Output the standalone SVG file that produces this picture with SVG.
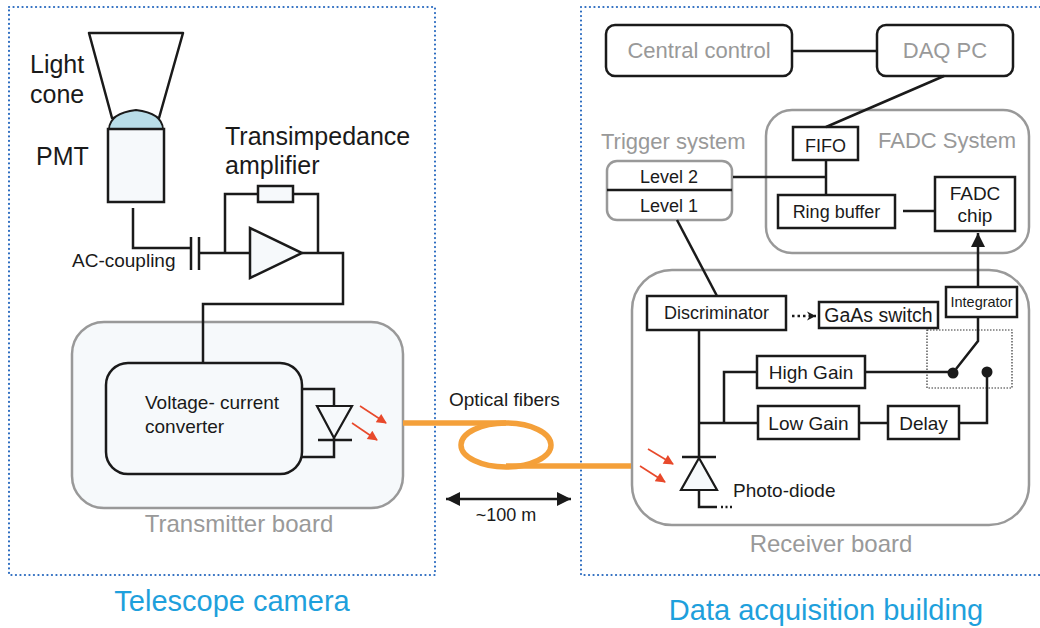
<svg xmlns="http://www.w3.org/2000/svg" width="1040" height="628" viewBox="0 0 1040 628">
  <defs>
    <style>
      text { font-family: "Liberation Sans", Arial, Helvetica, sans-serif; fill: #1a1a1a; }
      .gray { fill: #999999; }
      .blue { fill: #1ea0dc; }
      .zone { fill: none; stroke: #2c6cc0; stroke-width: 2.2; stroke-dasharray: 0.1 4.4; stroke-linecap: round; }
      .board { fill: #f6f9fb; stroke: #999999; stroke-width: 2.5; }
      .sys { fill: #ffffff; stroke: #999999; stroke-width: 2.5; }
      .blk { fill: #ffffff; stroke: #1a1a1a; stroke-width: 2.5; }
      .blkf { fill: #f6f9fb; stroke: #1a1a1a; stroke-width: 2.5; }
      .wire { fill: none; stroke: #1a1a1a; stroke-width: 2.5; }
      .fiber { fill: none; stroke: #f4a03a; stroke-width: 5.5; }
      .ray { fill: none; stroke: #e8492b; stroke-width: 1.6; }
      .mid { text-anchor: middle; }
    </style>
    <marker id="redHeadL" viewBox="0 0 10 10" refX="9" refY="5" markerWidth="12" markerHeight="10" markerUnits="userSpaceOnUse" orient="auto">
      <path d="M0,0 L10,5 L0,10 z" fill="#e8492b"/>
    </marker>
    <marker id="blackHead" viewBox="0 0 10 10" refX="10" refY="5" markerWidth="14" markerHeight="15" markerUnits="userSpaceOnUse" orient="auto-start-reverse">
      <path d="M0,0 L10,5 L0,10 z" fill="#1a1a1a"/>
    </marker>
    <marker id="dotHead" viewBox="0 0 10 10" refX="10" refY="5" markerWidth="9" markerHeight="12" markerUnits="userSpaceOnUse" orient="auto">
      <path d="M0,0 L10,5 L0,10 L3,5 z" fill="#1a1a1a"/>
    </marker>
  </defs>

  <!-- site zones -->
  <g id="telescope-camera">
    <rect class="zone" x="9" y="7" width="426" height="568"/>
    <text class="blue mid" x="232" y="611" font-size="29">Telescope camera</text>
  </g>
  <g id="daq-building">
    <path class="zone" d="M1040,7 H581 V575 H1040"/>
    <text class="blue mid" x="826" y="620" font-size="29">Data acquisition building</text>
  </g>

  <!-- camera-side components -->
  <g id="light-cone">
    <polygon points="89,33 183,33 159,118 112,118" fill="#ffffff" stroke="#1a1a1a" stroke-width="2.5" stroke-linejoin="round"/>
    <text x="30" y="73" font-size="25">Light</text>
    <text x="30" y="103" font-size="25">cone</text>
  </g>
  <g id="pmt">
    <path d="M109,129 Q110,113 136,110 Q162,113 163,129 z" fill="#b9dde8" stroke="#1a1a1a" stroke-width="1.8"/>
    <rect class="blkf" x="108" y="129" width="56" height="73"/>
    <text x="36" y="165" font-size="25">PMT</text>
  </g>
  <g id="ac-coupling">
    <line class="wire" x1="191" y1="237" x2="191" y2="270"/>
    <line class="wire" x1="199" y1="237" x2="199" y2="270"/>
    <text x="72" y="267" font-size="19">AC-coupling</text>
  </g>
  <g id="transimpedance-amplifier">
    <rect class="blkf" x="258" y="186" width="35" height="16" stroke-width="2"/>
    <polygon points="250,228 250,278 302,253" fill="#f6f9fb" stroke="#1a1a1a" stroke-width="2.5" stroke-linejoin="miter"/>
    <text x="225" y="145" font-size="25">Transimpedance</text>
    <text x="225" y="174" font-size="25">amplifier</text>
  </g>
  <g id="transmitter-board">
    <rect class="board" x="72" y="322" width="331" height="186" rx="32"/>
    <text class="gray mid" x="239" y="532" font-size="24">Transmitter board</text>
  </g>
  <g id="vi-converter">
    <rect class="blkf" x="106" y="363" width="196" height="111" rx="22"/>
    <text x="145" y="409" font-size="19">Voltage- current</text>
    <text x="145" y="433" font-size="19">converter</text>
  </g>
  <g id="led">
    <polygon points="317,406 352,406 334,438" fill="none" stroke="#1a1a1a" stroke-width="2.2" stroke-linejoin="miter"/>
    <line class="wire" x1="318" y1="440" x2="352" y2="440" stroke-width="2.2"/>
    <line class="ray" x1="360" y1="406" x2="386" y2="423" marker-end="url(#redHeadL)"/>
    <line class="ray" x1="352" y1="423" x2="377" y2="440" marker-end="url(#redHeadL)"/>
  </g>

  <!-- link between sites -->
  <g id="optical-fibers">
    <text x="449" y="406" font-size="19">Optical fibers</text>
    <line class="wire" x1="446" y1="499" x2="571" y2="499" marker-start="url(#blackHead)" marker-end="url(#blackHead)"/>
    <text class="mid" x="506" y="521" font-size="18">~100 m</text>
  </g>

  <!-- control and readout -->
  <g id="central-control">
    <rect class="blk" x="606" y="25" width="186" height="51" rx="9"/>
    <text class="gray mid" x="699" y="58" font-size="22">Central control</text>
  </g>
  <g id="daq-pc">
    <rect class="blk" x="877" y="25" width="136" height="51" rx="9"/>
    <text class="gray mid" x="945" y="58" font-size="22">DAQ PC</text>
  </g>
  <g id="fadc-system">
    <rect class="sys" x="766" y="110" width="263" height="143" rx="26"/>
    <text class="gray" x="878" y="148" font-size="22">FADC System</text>
  </g>
  <g id="fifo">
    <rect class="blk" x="793" y="127" width="65" height="33"/>
    <text class="mid" x="825.5" y="152" font-size="18">FIFO</text>
  </g>
  <g id="ring-buffer">
    <rect class="blk" x="778" y="195" width="117" height="33"/>
    <text class="mid" x="836.5" y="218" font-size="18">Ring buffer</text>
  </g>
  <g id="fadc-chip">
    <rect class="blk" x="935" y="177" width="80" height="54"/>
    <text class="mid" x="975" y="200" font-size="19">FADC</text>
    <text class="mid" x="975" y="222" font-size="19">chip</text>
  </g>
  <g id="trigger-system">
    <text class="gray" x="601" y="149" font-size="22">Trigger system</text>
    <rect class="sys" x="607" y="161" width="125" height="59" rx="10"/>
    <line class="wire" x1="607" y1="190" x2="732" y2="190"/>
    <text class="mid" x="669" y="183" font-size="18">Level 2</text>
    <text class="mid" x="669" y="212" font-size="18">Level 1</text>
  </g>

  <!-- receiver board -->
  <g id="receiver-board">
    <rect class="sys" x="632" y="270" width="397" height="255" rx="40"/>
    <text class="gray mid" x="831" y="552" font-size="24">Receiver board</text>
  </g>
  <g id="discriminator">
    <rect class="blk" x="647" y="296" width="139" height="34"/>
    <text class="mid" x="716.5" y="319" font-size="18">Discriminator</text>
  </g>
  <g id="gaas-switch">
    <rect class="blk" x="819" y="302" width="119" height="26" stroke-width="2"/>
    <text class="mid" x="878.5" y="322" font-size="19.5">GaAs switch</text>
    <rect x="927" y="330" width="85" height="58" fill="none" stroke="#333333" stroke-width="1.2" stroke-dasharray="1.5 1.5"/>
    <circle cx="953" cy="373" r="5.5" fill="#1a1a1a"/>
    <circle cx="987" cy="372" r="5.5" fill="#1a1a1a"/>
  </g>
  <g id="integrator">
    <rect class="blk" x="946" y="287" width="71" height="30"/>
    <text class="mid" x="981.5" y="307" font-size="14.5">Integrator</text>
  </g>
  <g id="high-gain">
    <rect class="blk" x="757" y="356" width="108" height="32"/>
    <text class="mid" x="811" y="379" font-size="19">High Gain</text>
  </g>
  <g id="low-gain">
    <rect class="blk" x="758" y="406" width="101" height="33"/>
    <text class="mid" x="808.5" y="430" font-size="19">Low Gain</text>
  </g>
  <g id="delay">
    <rect class="blk" x="888" y="406" width="71" height="33"/>
    <text class="mid" x="923.5" y="430" font-size="19">Delay</text>
  </g>
  <g id="photo-diode">
    <line class="wire" x1="682" y1="457" x2="716" y2="457" stroke-width="2.2"/>
    <polygon points="699,458 681,490 717,490" fill="#f6f9fb" stroke="#1a1a1a" stroke-width="2.2" stroke-linejoin="miter"/>
    <line class="ray" x1="648" y1="449" x2="673" y2="464" marker-end="url(#redHeadL)"/>
    <line class="ray" x1="640" y1="466" x2="665" y2="482" marker-end="url(#redHeadL)"/>
    <text x="733" y="497" font-size="19">Photo-diode</text>
  </g>

  <!-- connectors -->
  <g id="connectors">
    <!-- fiber with loop -->
    <line class="fiber" x1="403" y1="423" x2="506" y2="423"/>
    <ellipse class="fiber" cx="506" cy="445" rx="45" ry="22"/>
    <line class="fiber" x1="506" y1="466" x2="631" y2="466"/>

    <!-- camera front end -->
    <polyline class="wire" points="133,208 133,248 191,248"/>
    <line class="wire" x1="199" y1="253" x2="250" y2="253"/>
    <polyline class="wire" points="225,253 225,194 258,194"/>
    <polyline class="wire" points="293,194 318,194 318,253"/>
    <polyline class="wire" points="302,253 343,253 343,304 203,304 203,363"/>
    <polyline class="wire" points="302,389 334,389 334,406" stroke-width="2.2"/>
    <polyline class="wire" points="334,438 334,457 302,457" stroke-width="2.2"/>

    <!-- control network -->
    <line class="wire" x1="792" y1="51" x2="877" y2="51"/>
    <line class="wire" x1="944" y1="76" x2="826" y2="127"/>
    <line class="wire" x1="826" y1="160" x2="826" y2="195"/>
    <line class="wire" x1="733" y1="177" x2="826" y2="177"/>
    <line class="wire" x1="903" y1="211" x2="935" y2="211"/>
    <line class="wire" x1="677" y1="220" x2="717" y2="296"/>
    <line class="wire" x1="978" y1="287" x2="978" y2="233" marker-end="url(#blackHead)"/>

    <!-- receiver signal paths -->
    <line x1="792" y1="316" x2="816" y2="316" stroke="#1a1a1a" stroke-width="2.5" stroke-dasharray="2.5 3" marker-end="url(#dotHead)"/>
    <line class="wire" x1="699" y1="330" x2="699" y2="457"/>
    <line class="wire" x1="699" y1="423" x2="758" y2="423"/>
    <polyline class="wire" points="724,423 724,372 757,372"/>
    <line class="wire" x1="865" y1="372" x2="953" y2="372"/>
    <line class="wire" x1="859" y1="423" x2="888" y2="423"/>
    <polyline class="wire" points="959,423 987,423 987,372"/>
    <polyline class="wire" points="978,317 978,341 956,369"/>
    <polyline class="wire" points="699,490 699,507 717,507"/>
    <line x1="721" y1="507" x2="734" y2="507" stroke="#1a1a1a" stroke-width="2.5" stroke-dasharray="2 2.5"/>
  </g>
</svg>
